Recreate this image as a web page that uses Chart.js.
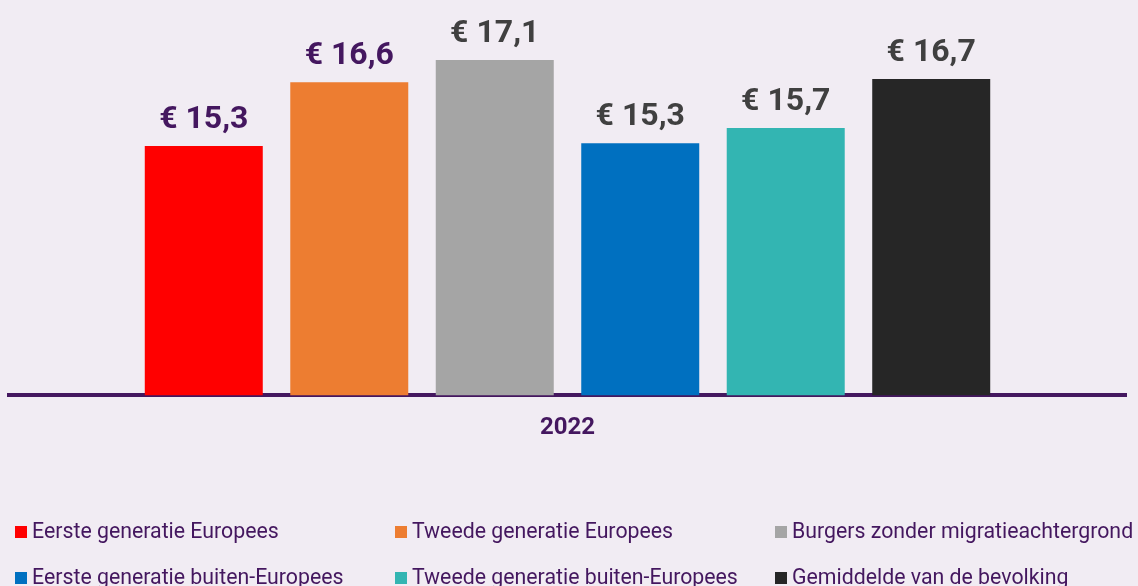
<!DOCTYPE html>
<html>
<head>
<meta charset="utf-8">
<script src="https://cdn.jsdelivr.net/npm/chart.js@4"></script>
<style>
html,body{margin:0;padding:0;background:#f1ecf3;}
canvas{display:block;}
</style>
</head>
<body>
<canvas id="c" width="1138" height="586"></canvas>
<script>
const categories = ['2022'];
const seriesNames = [
  'Eerste generatie Europees',
  'Tweede generatie Europees',
  'Burgers zonder migratieachtergrond',
  'Eerste generatie buiten-Europees',
  'Tweede generatie buiten-Europees',
  'Gemiddelde van de bevolking'
];
const seriesValues = [15.27, 16.62, 17.09, 15.33, 15.65, 16.69];
const seriesColors = ['#ff0000', '#ed7d31', '#a5a5a5', '#0070c0', '#33b5b2', '#262626'];
const labelColors = ['#44175f', '#44175f', '#404040', '#404040', '#404040', '#404040'];
const yMin = 10, yMax = 18;

const PURPLE = '#44175f';

const valueLabels = {
  id: 'valueLabels',
  afterDatasetsDraw(chart) {
    const ctx = chart.ctx;
    ctx.save();
    ctx.font = 'bold 32px Roboto';
    ctx.textAlign = 'center';
    ctx.textBaseline = 'alphabetic';
    chart.data.datasets.forEach((ds, i) => {
      const meta = chart.getDatasetMeta(i);
      meta.data.forEach((bar, j) => {
        const v = ds.data[j];
        ctx.fillStyle = labelColors[i];
        ctx.fillText('€ ' + v.toFixed(1).replace('.', ','), bar.x, bar.y - 18);
      });
    });
    ctx.restore();
  }
};

const gridLegend = {
  id: 'gridLegend',
  afterDraw(chart) {
    const ctx = chart.ctx;
    ctx.save();
    ctx.font = '21.3px Roboto';
    ctx.textBaseline = 'alphabetic';
    chart.data.datasets.forEach((ds, i) => {
      const col = i % 3, row = Math.floor(i / 3);
      const x = 15 + col * 380;
      const base = 538 + row * 46;
      ctx.fillStyle = ds.backgroundColor;
      ctx.fillRect(x, base - 12, 12, 12);
      ctx.fillStyle = PURPLE;
      ctx.fillText(ds.label, x + 17, base);
    });
    ctx.restore();
  }
};

const bg = {
  id: 'bg',
  beforeDraw(chart) {
    const ctx = chart.ctx;
    ctx.save();
    ctx.fillStyle = '#f1ecf3';
    ctx.fillRect(0, 0, chart.width, chart.height);
    ctx.restore();
  }
};

new Chart(document.getElementById('c'), {
  type: 'bar',
  data: {
    labels: categories,
    datasets: seriesNames.map((name, i) => ({
      label: name,
      data: [seriesValues[i]],
      backgroundColor: seriesColors[i],
      categoryPercentage: 0.7815,
      barPercentage: 0.811
    }))
  },
  options: {
    responsive: false,
    animation: false,
    layout: { padding: { top: 17, left: 9, right: 12, bottom: 126 } },
    plugins: {
      legend: { display: false },
      tooltip: { enabled: false }
    },
    scales: {
      x: {
        grid: { display: false, drawTicks: false },
        border: { display: true, color: PURPLE, width: 4 },
        ticks: { color: PURPLE, font: { family: 'Roboto', size: 24, weight: 'bold' }, padding: 18 }
      },
      y: {
        display: false,
        min: yMin,
        max: yMax
      }
    }
  },
  plugins: [bg, valueLabels, gridLegend]
});
</script>
</body>
</html>
